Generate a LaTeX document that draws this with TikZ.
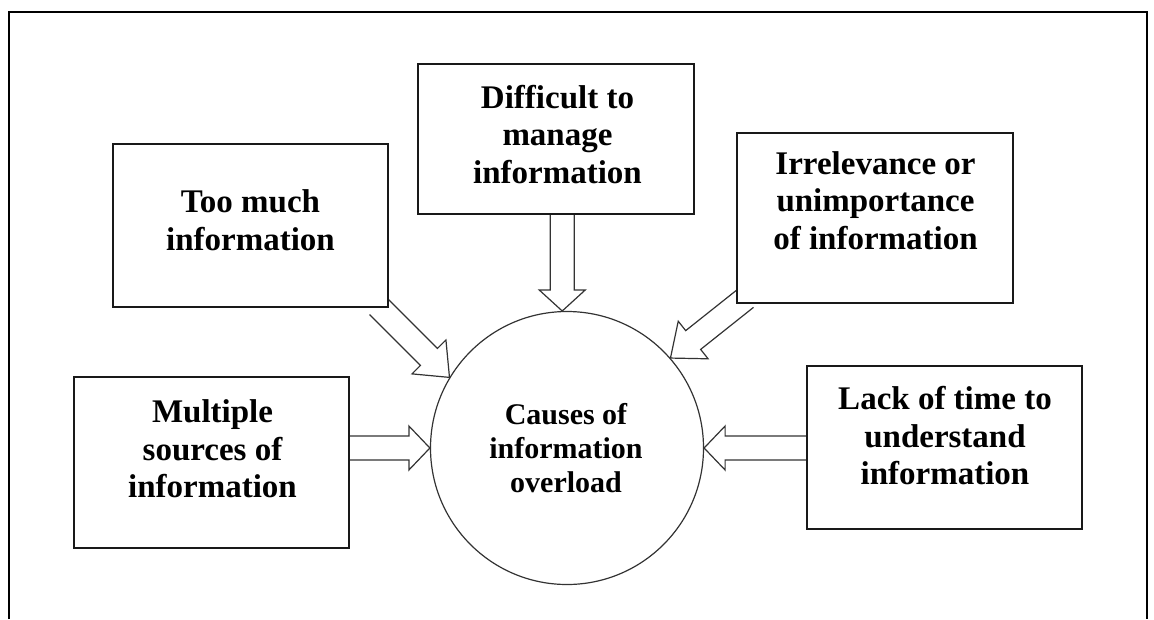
\documentclass[tikz,border=0pt]{standalone}
\usepackage{fontspec}
\setmainfont{Liberation Serif}
\usetikzlibrary{calc,backgrounds}
\tikzset{
  frameline/.style={line width=2.6pt, draw=black},
  box/.style={draw=black!90, line width=2pt, fill=white, inner sep=0pt,
    minimum width=275pt, minimum height=#1},
  boxtext/.style={align=center, inner sep=0pt,
    font=\bfseries\fontsize{33}{37.5}\selectfont},
  hub/.style={circle, draw=black!80, line width=1.2pt, minimum size=273pt,
    inner sep=0pt},
  hubtext/.style={align=center, inner sep=0pt,
    font=\bfseries\fontsize{30}{34}\selectfont},
  blockarr/.style={draw=black!80, line width=1.2pt, fill=white, line join=miter},
}
% hollow block arrow: #1 tail, #2 tip, #3 head length, #4 head half-width
\newcommand\blockarrow[4]{%
  \coordinate (ba-base) at ($(#2)!#3!(#1)$);
  \path[blockarr] ($(#1)!12pt!90:(#2)$) -- ($(ba-base)!12pt!90:(#2)$)
    -- ($(ba-base)!#4!90:(#2)$) -- (#2)
    -- ($(ba-base)!#4!-90:(#2)$) -- ($(ba-base)!12pt!-90:(#2)$)
    -- ($(#1)!12pt!-90:(#2)$);
}
\begin{document}
\begin{tikzpicture}[x=1pt, y=-1pt]
  \useasboundingbox (0,0) rectangle (1154,619);
  % outer frame, open at the bottom
  \draw[frameline] (9,619) -- (9,12) -- (1147,12) -- (1147,619);

  % central circle
  \node[hub] (causes) at (567,448) {};
  \node[hubtext] (causes-t) at (566,448.5) {Causes of\\information\\overload};

  % cause boxes
  \node[box=163pt] (much) at (250.5,225.5) {};
  \node[boxtext] (much-t) at (250.5,220) {Too much\\information};

  \node[box=171pt] (multi) at (211.5,462.5) {};
  \node[boxtext] (multi-t) at (212.5,449) {Multiple\\sources of\\information};

  \node[box=150pt, minimum width=276pt] (diff) at (556,139) {};
  \node[boxtext] (diff-t) at (557.5,134.5) {Difficult to\\manage\\information};

  \node[box=170pt, minimum width=276pt] (irrel) at (875,218) {};
  \node[boxtext] (irrel-t) at (875.5,200.5) {Irrelevance or\\unimportance\\of information};

  \node[box=163pt] (lack) at (944.5,447.5) {};
  \node[boxtext] (lack-t) at (945,436) {Lack of time to\\understand\\information};

  % arrow ends
  \coordinate (t-much) at ($(much.south east)+(-11,-2)$);
  \coordinate (t-irrel) at ($(irrel.south west)+(10,-6)$);
  \coordinate (t-diff) at (causes.92 |- diff.south);
  \coordinate (t-multi) at (multi.east |- causes.180);
  \coordinate (t-lack) at (lack.west |- causes.0);

  \begin{scope}[on background layer]
    \blockarrow{t-much}{causes.149}{29pt}{24pt}
    \blockarrow{t-irrel}{causes.41}{29pt}{24pt}
    \blockarrow{t-diff}{causes.92}{21pt}{23pt}
    \blockarrow{t-multi}{causes.180}{21pt}{22pt}
    \blockarrow{t-lack}{causes.0}{21pt}{22pt}
  \end{scope}
\end{tikzpicture}
\end{document}
